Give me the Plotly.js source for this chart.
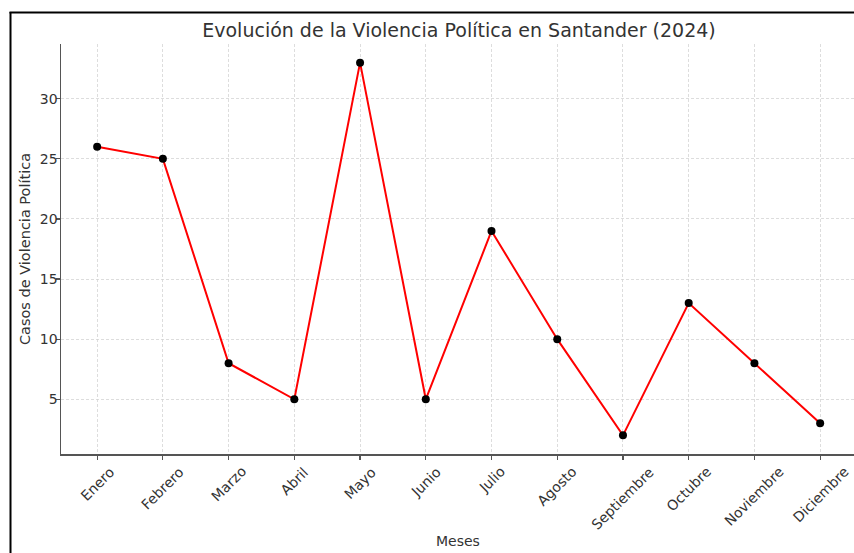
<!DOCTYPE html>
<html>
<head>
<meta charset="utf-8">
<script src="https://cdn.plot.ly/plotly-3.0.1.min.js"></script>
<style>html,body{margin:0;padding:0;background:#fff;} #chart{width:854px;height:553px;}</style>
</head>
<body>
<div id="chart"></div>
<script>
const months = ["Enero","Febrero","Marzo","Abril","Mayo","Junio","Julio","Agosto","Septiembre","Octubre","Noviembre","Diciembre"];
const cases = [26, 25, 8, 5, 33, 5, 19, 10, 2, 13, 8, 3];
const yTicks = [5, 10, 15, 20, 25, 30];
const titleText = "Evolución de la Violencia Política en Santander (2024)";
const xTitle = "Meses";
const yTitle = "Casos de Violencia Política";

const W = 854, H = 553, L = 61, R = 0, T = 44, B = 99;
const pw = W - L - R, ph = H - T - B;
const px2x = p => (p - L) / pw;
const py2y = p => (H - B - p) / ph;
const font = "DejaVu Sans, sans-serif";
const txt = "#333333";

const trace = {
  x: months, y: cases, type: "scatter", mode: "lines+markers",
  line: {color: "#ff0000", width: 2},
  marker: {color: "#000000", size: 8},
  cliponaxis: false, hoverinfo: "skip"
};

const tickAnn = months.map(m => ({
  x: m, xref: "x", y: 0, yref: "paper", text: m, showarrow: false,
  textangle: -45, xanchor: "center", yanchor: "top", yshift: -7,
  font: {family: font, size: 14, color: txt}
}));

const layout = {
  width: W, height: H,
  margin: {l: L, r: R, t: T, b: B, pad: 0},
  paper_bgcolor: "#ffffff", plot_bgcolor: "#ffffff",
  showlegend: false,
  font: {family: font, color: txt, size: 14},
  title: {text: titleText, x: 459 / W, xanchor: "center", y: 1 - 30 / H, yanchor: "middle",
          font: {family: font, size: 19, color: txt}},
  xaxis: {
    type: "category", range: [-0.55, 11.515],
    showgrid: true, gridcolor: "#d4d4d4", gridwidth: 0.8, griddash: "3px,2px",
    showline: true, linecolor: "#555555", linewidth: 1.5, mirror: false,
    ticks: "outside", ticklen: 4, tickwidth: 1.2, tickcolor: "#555555",
    showticklabels: false, zeroline: false,
    title: {text: ""}
  },
  yaxis: {
    range: [0.45, 34.55], tickvals: yTicks,
    showgrid: true, gridcolor: "#d4d4d4", gridwidth: 0.8, griddash: "3px,2px",
    showline: true, linecolor: "#555555", linewidth: 1.5, mirror: false,
    ticks: "outside", ticklen: 4, tickwidth: 1.2, tickcolor: "#555555",
    tickfont: {family: font, size: 14, color: txt}, zeroline: false,
    ticklabelstandoff: -5,
    title: {text: yTitle, standoff: 6, font: {family: font, size: 14.5, color: txt}}
  },
  annotations: tickAnn.concat([
    {x: px2x(458), xref: "paper", y: py2y(541), yref: "paper", text: xTitle, showarrow: false,
     xanchor: "center", yanchor: "middle", font: {family: font, size: 14, color: txt}}
  ]),
  shapes: [
    {type: "line", xref: "paper", yref: "paper", x0: px2x(10.5), x1: px2x(10.5), y0: py2y(12), y1: py2y(570),
     line: {color: "#000000", width: 2}},
    {type: "line", xref: "paper", yref: "paper", x0: px2x(9.5), x1: px2x(870), y0: py2y(12.5), y1: py2y(12.5),
     line: {color: "#000000", width: 2}}
  ]
};

Plotly.newPlot("chart", [trace], layout, {displayModeBar: false, staticPlot: true});
</script>
</body>
</html>
